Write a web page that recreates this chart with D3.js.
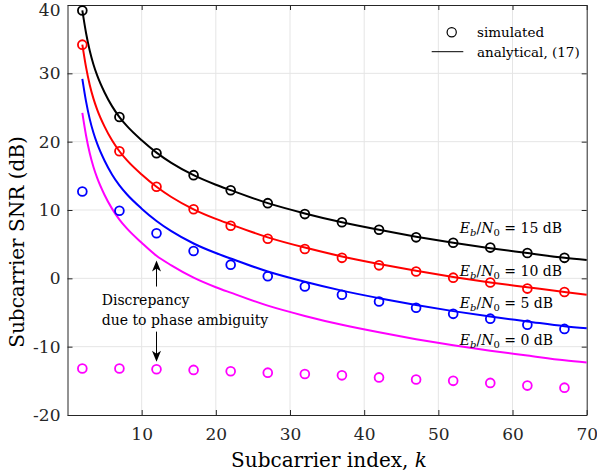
<!DOCTYPE html>
<html>
<head>
<meta charset="utf-8">
<script src="https://cdn.jsdelivr.net/npm/d3@7"></script>
<style>
body { margin: 0; background: #fff; }
svg text { font-family: "DejaVu Serif", "Liberation Serif", serif; white-space: pre; }
</style>
</head>
<body>
<svg></svg>
<script>
const width = 597;
const height = 476;

// simulated points
const simK = [2, 7, 12, 17, 22, 27, 32, 37, 42, 47, 52, 57, 62, 67];
const sim15 = [39.2, 23.6, 18.3, 15.1, 12.9, 11.0, 9.4, 8.2, 7.1, 6.0, 5.2, 4.5, 3.7, 3.0];
const sim10 = [34.2, 18.6, 13.4, 10.1, 7.7, 5.8, 4.3, 3.0, 1.9, 1.0, 0.1, -0.6, -1.5, -2.0];
const sim5 = [12.7, 9.9, 6.6, 4.0, 2.0, 0.3, -1.2, -2.4, -3.4, -4.3, -5.2, -5.9, -6.8, -7.4];
const sim0 = [-13.2, -13.2, -13.3, -13.4, -13.6, -13.8, -14.0, -14.2, -14.5, -14.8, -15.0, -15.3, -15.7, -16.0];

// analytical curves, (17)
const anaK = [2, 2.5, 3, 3.5, 4, 5, 6, 7, 8, 10, 12, 14, 17, 20, 22, 27, 32, 37, 42, 47, 52, 57, 62, 67, 70];
const ana15 = [39.2, 35.9, 33.3, 31.3, 29.7, 27.2, 25.2, 23.6, 22.3, 20.2, 18.4, 16.9, 15.1, 13.7, 12.9, 11.0, 9.5, 8.2, 7.1, 6.1, 5.2, 4.4, 3.7, 3.0, 2.7];
const ana10 = [34.2, 30.9, 28.3, 26.3, 24.7, 22.2, 20.2, 18.6, 17.3, 15.2, 13.4, 11.9, 10.1, 8.7, 7.9, 6.0, 4.5, 3.2, 2.1, 1.1, 0.2, -0.6, -1.3, -2.0, -2.4];
const ana5 = [29.2, 25.9, 23.3, 21.3, 19.7, 17.2, 15.2, 13.6, 12.3, 10.2, 8.4, 6.9, 5.1, 3.7, 2.9, 1.0, -0.5, -1.8, -2.9, -3.9, -4.8, -5.6, -6.3, -7.0, -7.3];
const ana0 = [24.2, 20.9, 18.3, 16.3, 14.7, 12.2, 10.2, 8.6, 7.3, 5.2, 3.3, 1.9, 0.1, -1.3, -2.1, -4.0, -5.5, -6.8, -7.9, -8.9, -9.8, -10.6, -11.3, -12.0, -12.3];

const xTicks = [10, 20, 30, 40, 50, 60, 70];
const yTicks = [-20, -10, 0, 10, 20, 30, 40];
const ebLabels = ["15", "10", "5", "0"];
const ebLabelY = [6.6, 0.4, -4.3, -9.8];

const series = [
  {color: "#000000", sim: sim15, ana: ana15},
  {color: "#ff0000", sim: sim10, ana: ana10},
  {color: "#0000ff", sim: sim5, ana: ana5},
  {color: "#ff00ff", sim: sim0, ana: ana0}
];

const x = d3.scaleLinear().domain([0, 70]).range([67.5, 586.7]);
const y = d3.scaleLinear().domain([-20, 40]).range([415, 5]);

const svg = d3.select("svg")
  .attr("width", width)
  .attr("height", height);

// grid
svg.append("g").selectAll("line")
  .data(xTicks.slice(0, -1)).enter().append("line")
  .attr("x1", d => x(d)).attr("x2", d => x(d))
  .attr("y1", y(-20)).attr("y2", y(40))
  .attr("stroke", "#e5e5e5").attr("stroke-width", 1);
svg.append("g").selectAll("line")
  .data(yTicks.slice(1, -1)).enter().append("line")
  .attr("x1", x(0)).attr("x2", x(70))
  .attr("y1", d => y(d)).attr("y2", d => y(d))
  .attr("stroke", "#e5e5e5").attr("stroke-width", 1);

// axes box with inside ticks
function styleAxis(g, labels) {
  g.attr("font-family", null).attr("font-size", null);
  g.select(".domain").attr("stroke", "#262626").attr("stroke-width", 1);
  g.selectAll(".tick line").attr("stroke", "#262626");
  g.selectAll("text").style("font-size", "17px").attr("fill", "#262626");
  if (!labels) g.selectAll("text").remove();
}
const fmt = d => String(d);
svg.append("g").attr("transform", `translate(0,${y(-20)})`)
  .call(d3.axisBottom(x).tickValues(xTicks).tickSizeInner(-5).tickSizeOuter(0).tickPadding(13).tickFormat(fmt))
  .call(g => styleAxis(g, true));
svg.append("g").attr("transform", `translate(0,${y(40)})`)
  .call(d3.axisTop(x).tickValues(xTicks).tickSizeInner(-5).tickSizeOuter(0))
  .call(g => styleAxis(g, false));
svg.append("g").attr("transform", `translate(${x(0)},0)`)
  .call(d3.axisLeft(y).tickValues(yTicks).tickSizeInner(-5).tickSizeOuter(0).tickPadding(7).tickFormat(fmt))
  .call(g => styleAxis(g, true))
  .call(g => g.selectAll(".tick text").filter(d => d === 40).attr("dy", "0.6em"));
svg.append("g").attr("transform", `translate(${x(70)},0)`)
  .call(d3.axisRight(y).tickValues(yTicks).tickSizeInner(-5).tickSizeOuter(0))
  .call(g => styleAxis(g, false));

// analytical lines
const line = d3.line()
  .x((d, i) => x(anaK[i]))
  .y(d => y(d))
  .curve(d3.curveMonotoneX);

svg.append("g").selectAll("path")
  .data(series).enter().append("path")
  .attr("d", d => line(d.ana))
  .attr("fill", "none")
  .attr("stroke", d => d.color)
  .attr("stroke-width", 2);

// simulated markers
series.forEach(s => {
  svg.append("g").selectAll("circle")
    .data(s.sim).enter().append("circle")
    .attr("cx", (d, i) => x(simK[i]))
    .attr("cy", d => y(d))
    .attr("r", 4.4)
    .attr("fill", "none")
    .attr("stroke", s.color)
    .attr("stroke-width", 1.8);
});

// Eb/N0 labels
const eb = svg.append("g").selectAll("text")
  .data(ebLabels).enter().append("text")
  .attr("x", x(52.9))
  .attr("y", (d, i) => y(ebLabelY[i]))
  .style("font-size", "14px");
eb.append("tspan").attr("font-style", "italic").text("E");
eb.append("tspan").attr("font-style", "italic").style("font-size", "10px").attr("dy", 3).text("b");
eb.append("tspan").attr("dy", -3).text("/");
eb.append("tspan").attr("font-style", "italic").text("N");
eb.append("tspan").style("font-size", "10px").attr("dy", 3).text("0");
eb.append("tspan").attr("dy", -3).text(d => " = " + d + " dB");

// annotation
svg.append("text").attr("x", 101.7).attr("y", 305).style("font-size", "14px").text("Discrepancy");
svg.append("text").attr("x", 101.7).attr("y", 325).style("font-size", "14px").text("due to phase ambiguity");

function arrow(k, from, to) {
  const x0 = x(k), y0 = y(from), y1 = y(to);
  const dir = y1 < y0 ? 1 : -1;
  svg.append("line")
    .attr("x1", x0).attr("x2", x0)
    .attr("y1", y0).attr("y2", y1 + dir * 6)
    .attr("stroke", "#000").attr("stroke-width", 1);
  svg.append("path")
    .attr("d", `M${x0},${y1} L${x0 - 4.5},${y1 + dir * 11} L${x0},${y1 + dir * 8} L${x0 + 4.5},${y1 + dir * 11} Z`)
    .attr("fill", "#000");
}
arrow(12, -1.2, 2.6);
arrow(12, -7.8, -12.2);

// legend
svg.append("circle").attr("cx", 451.7).attr("cy", 32.3).attr("r", 4.6)
  .attr("fill", "none").attr("stroke", "#000").attr("stroke-width", 1.2);
svg.append("text").attr("x", 477).attr("y", 37).style("font-size", "13.5px").text("simulated");
svg.append("line").attr("x1", 431.7).attr("x2", 463.3).attr("y1", 51.7).attr("y2", 51.7)
  .attr("stroke", "#000").attr("stroke-width", 1);
svg.append("text").attr("x", 477).attr("y", 57).style("font-size", "13.5px").text("analytical, (17)");

// axis titles
svg.append("text")
  .attr("x", 329).attr("y", 467)
  .attr("text-anchor", "middle")
  .style("font-size", "20px")
  .call(t => {
    t.append("tspan").text("Subcarrier index, ");
    t.append("tspan").attr("font-style", "italic").text("k");
  });
svg.append("text")
  .attr("transform", "translate(24,242) rotate(-90)")
  .attr("text-anchor", "middle")
  .style("font-size", "20px")
  .text("Subcarrier SNR (dB)");
</script>
</body>
</html>
